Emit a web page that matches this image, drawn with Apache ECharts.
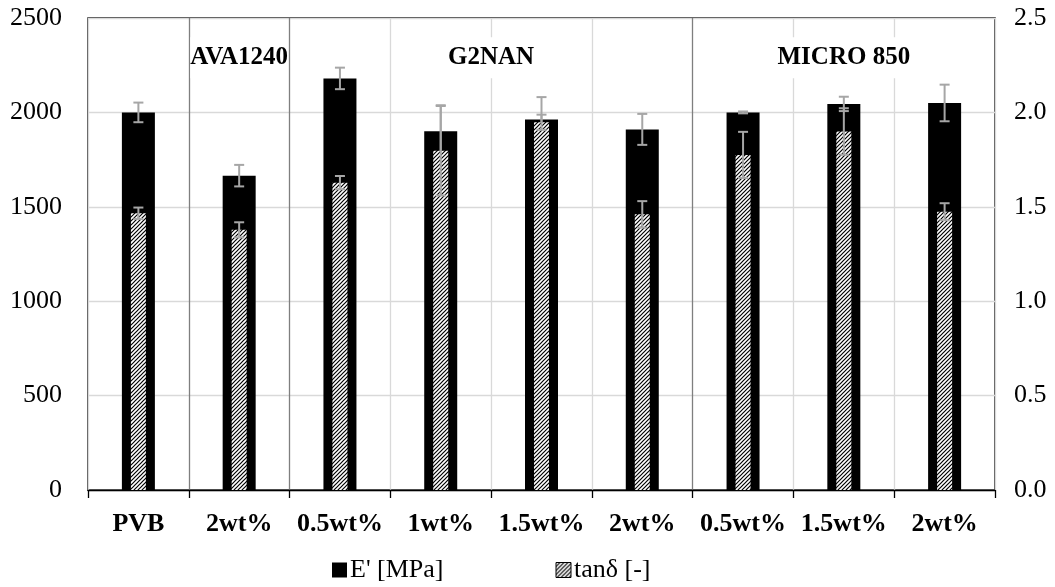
<!DOCTYPE html>
<html>
<head>
<meta charset="utf-8">
<script src="https://cdn.jsdelivr.net/npm/echarts@6/dist/echarts.min.js"></script>
<style>html,body{margin:0;padding:0;background:#fff}#c{width:1055px;height:587px}</style>
</head>
<body>
<div id="c"></div>
<script>
// ---- data ----
const categories = ['PVB', '2wt%', '0.5wt%', '1wt%', '1.5wt%', '2wt%', '0.5wt%', '1.5wt%', '2wt%'];
const eModulus = [2000, 1665, 2180, 1900, 1963, 1910, 2000, 2045, 2050];
const eModulusErr = [52, 57, 57, 138, 118, 82, 5, 38, 97];
const tanDelta = [1.466, 1.378, 1.628, 1.797, 1.948, 1.460, 1.775, 1.899, 1.474];
const tanDeltaErr = [0.03, 0.04, 0.035, 0.237, 0.04, 0.07, 0.122, 0.123, 0.045];
const groupNames = ['AVA1240', 'G2NAN', 'MICRO 850'];
const groupStart = [1, 2, 6];
const groupEnd = [1, 5, 8];
const leftTicks = [0, 500, 1000, 1500, 2000, 2500];
const rightTicks = [0.0, 0.5, 1.0, 1.5, 2.0, 2.5];
const seriesNames = ["E' [MPa]", 'tanδ [-]'];

// ---- hatch pattern ----
function hatch() {
  const s = 4;
  const c = document.createElement('canvas');
  c.width = s; c.height = s;
  const g = c.getContext('2d');
  g.fillStyle = '#fff'; g.fillRect(0, 0, s, s);
  g.strokeStyle = '#000'; g.lineWidth = 1.2;
  g.beginPath();
  g.moveTo(-s, 2 * s); g.lineTo(2 * s, -s);
  g.moveTo(-2 * s, 2 * s); g.lineTo(s, -s);
  g.moveTo(0, 2 * s); g.lineTo(3 * s, -s);
  g.stroke();
  return c;
}
const hatchFill = { image: hatch(), repeat: 'repeat' };

const FONT = '"Liberation Serif", "Times New Roman", serif';
const errColor = '#a6a6a6';

function errRender(params, api) {
  const x = api.value(0), v = api.value(1), e = api.value(2);
  const t = api.coord([x, v + e]);
  const b = api.coord([x, v - e]);
  const hw = 5;
  const st = { stroke: errColor, lineWidth: 2 };
  return {
    type: 'group',
    children: [
      { type: 'line', shape: { x1: t[0], y1: t[1], x2: b[0], y2: b[1] }, style: st },
      { type: 'line', shape: { x1: t[0] - hw, y1: t[1], x2: t[0] + hw, y2: t[1] }, style: st },
      { type: 'line', shape: { x1: b[0] - hw, y1: b[1], x2: b[0] + hw, y2: b[1] }, style: st }
    ]
  };
}

const chart = echarts.init(document.getElementById('c'), null, { renderer: 'canvas' });

const splitColors = ['#d9d9d9', '#7f7f7f', '#7f7f7f', '#d9d9d9', '#d9d9d9', '#d9d9d9', '#7f7f7f', '#d9d9d9', '#d9d9d9', '#d9d9d9'];

chart.setOption({
  animation: false,
  backgroundColor: '#fff',
  textStyle: { fontFamily: FONT },
  grid: { left: 88, right: 60, top: 18, bottom: 97, show: true, borderColor: '#000', borderWidth: 1.3, backgroundColor: 'transparent' },
  legend: {
    data: [
      { name: seriesNames[0], icon: 'rect' },
      { name: seriesNames[1], icon: 'rect', itemStyle: { borderColor: '#000', borderWidth: 1 } }
    ],
    left: 332, top: 557, padding: 0,
    itemWidth: 15, itemHeight: 15, itemGap: 112,
    textStyle: { fontFamily: FONT, fontSize: 26, color: '#000', padding: [0, 0, 0, -2] }
  },
  xAxis: [
    {
      type: 'category', data: categories, boundaryGap: true,
      axisLine: { show: true, lineStyle: { color: '#000', width: 1.3 } },
      axisTick: { show: true, length: 8, lineStyle: { color: '#000', width: 1.3 } },
      axisLabel: { fontFamily: FONT, fontWeight: 'bold', fontSize: 26, color: '#000', margin: 21, interval: 0 },
      splitLine: { show: true, lineStyle: { color: splitColors, width: 1.3 } }
    },
    { type: 'category', data: categories, boundaryGap: true, show: false }
  ],
  yAxis: [
    {
      type: 'value', min: leftTicks[0], max: leftTicks[leftTicks.length - 1], interval: 500,
      axisLine: { show: false }, axisTick: { show: false },
      axisLabel: { fontFamily: FONT, fontSize: 26, color: '#000', margin: 26, formatter: v => String(v) },
      splitLine: { show: true, lineStyle: { color: '#d9d9d9', width: 1.3 } }
    },
    {
      type: 'value', min: rightTicks[0], max: rightTicks[rightTicks.length - 1], interval: 0.5,
      axisLine: { show: false }, axisTick: { show: false },
      axisLabel: { fontFamily: FONT, fontSize: 26, color: '#000', margin: 19, formatter: v => v.toFixed(1) },
      splitLine: { show: false }
    }
  ],
  series: [
    {
      name: seriesNames[0], type: 'bar', xAxisIndex: 0, yAxisIndex: 0, z: 2,
      barWidth: 33, data: eModulus, itemStyle: { color: '#000' }
    },
    {
      type: 'custom', xAxisIndex: 0, yAxisIndex: 0, z: 3,
      renderItem: errRender,
      data: eModulus.map((v, i) => [i, v, eModulusErr[i]])
    },
    {
      name: seriesNames[1], type: 'bar', xAxisIndex: 1, yAxisIndex: 1, z: 4,
      barWidth: 15, data: tanDelta, itemStyle: { color: hatchFill }
    },
    {
      type: 'custom', xAxisIndex: 1, yAxisIndex: 1, z: 5,
      renderItem: errRender,
      data: tanDelta.map((v, i) => [i, v, tanDeltaErr[i]])
    },
    {
      type: 'custom', xAxisIndex: 0, yAxisIndex: 0, z: 6,
      renderItem: function (params, api) {
        const i = params.dataIndex;
        const a = api.coord([groupStart[i], 2290]);
        const b = api.coord([groupEnd[i], 2290]);
        return {
          type: 'text',
          x: (a[0] + b[0]) / 2, y: a[1],
          style: {
            text: groupNames[i], fill: '#000',
            font: 'bold 25px ' + FONT,
            align: 'center', verticalAlign: 'middle',
            backgroundColor: '#fff', padding: [8, 0]
          }
        };
      },
      data: groupNames.map((n, i) => [groupStart[i], 2290])
    }
  ]
});
</script>
</body>
</html>
